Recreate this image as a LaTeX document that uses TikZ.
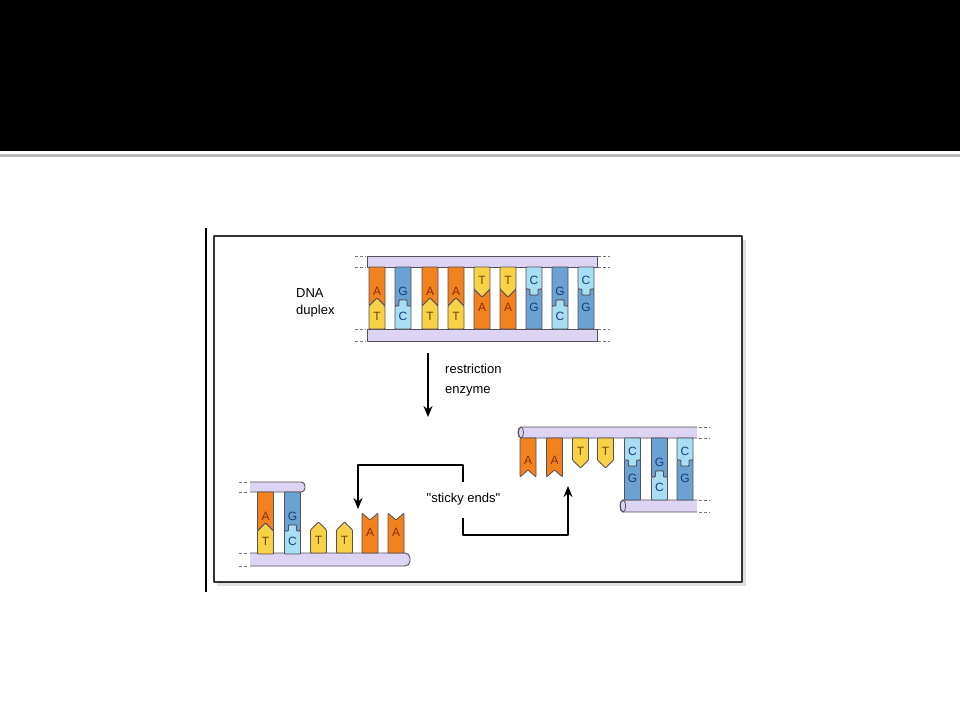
\documentclass[tikz,border=0pt]{standalone}
\usepackage{fontspec}
\setmainfont{Liberation Sans}[Ligatures=TeXOff]
\usetikzlibrary{arrows.meta}
\definecolor{orng}{HTML}{F2821E}
\definecolor{yel}{HTML}{F8D246}
\definecolor{gblue}{HTML}{6AA2D2}
\definecolor{cblue}{HTML}{A8DEF2}
\definecolor{lav}{HTML}{DDD3F2}
\definecolor{edge}{HTML}{55505A}
\definecolor{atxt}{HTML}{8A2E0A}
\definecolor{ttxt}{HTML}{6B4A00}
\definecolor{gctxt}{HTML}{1A3C78}
\tikzset{nt/.style={draw=edge,line width=0.8pt,rounded corners=0.8pt},
	lbl/.style={font=\fontsize{12}{12}\selectfont,inner sep=0pt},
	txt/.style={font=\fontsize{13}{13}\selectfont,inner sep=0pt},
	tube/.style={fill=lav,draw=edge,line width=0.9pt},
	strandend/.style={draw=edge!80,line width=0.9pt,dash pattern=on 3pt off 2pt},
	arr/.style={->,line width=1.8pt}}
% one nucleotide, pointed or notched end: x, base, edge, tip, colour
\newcommand{\ptd}[5]{\filldraw[nt,fill=#5] (#1-8,#2) -- (#1-8,#3) -- (#1,#4) -- (#1+8,#3) -- (#1+8,#2) -- cycle;}
% one nucleotide, bump or socket end
\newcommand{\bmp}[5]{\filldraw[nt,fill=#5] (#1-8,#2) -- (#1-8,#3) -- (#1-4,#3) -- (#1-4,#4) -- (#1+4,#4) -- (#1+4,#3) -- (#1+8,#3) -- (#1+8,#2) -- cycle;}
% base pairs: x, top strand edge, name
\newcommand{\pairAT}[3]{\ptd{#1}{#2}{#2+39}{#2+31}{orng}\ptd{#1}{#2+62}{#2+39}{#2+31}{yel}
	\node[lbl,text=atxt] (#3a) at (#1,#2+24) {A};\node[lbl,text=ttxt] (#3b) at (#1,#2+49) {T};}
\newcommand{\pairTA}[3]{\ptd{#1}{#2+62}{#2+22}{#2+30}{orng}\ptd{#1}{#2}{#2+22}{#2+30}{yel}
	\node[lbl,text=ttxt] (#3a) at (#1,#2+13) {T};\node[lbl,text=atxt] (#3b) at (#1,#2+40) {A};}
\newcommand{\pairGC}[3]{\bmp{#1}{#2}{#2+39}{#2+33}{gblue}\bmp{#1}{#2+62}{#2+39}{#2+33}{cblue}
	\node[lbl,text=gctxt] (#3a) at (#1,#2+24) {G};\node[lbl,text=gctxt] (#3b) at (#1,#2+49) {C};}
\newcommand{\pairCG}[3]{\bmp{#1}{#2+62}{#2+22}{#2+28}{gblue}\bmp{#1}{#2}{#2+22}{#2+28}{cblue}
	\node[lbl,text=gctxt] (#3a) at (#1,#2+13) {C};\node[lbl,text=gctxt] (#3b) at (#1,#2+40) {G};}
\begin{document}
\begin{tikzpicture}[x=1pt,y=-1pt,>={Stealth[length=11pt,width=9pt]},line join=round]
	\useasboundingbox (0,0) rectangle (960,720);
	\fill[white] (0,0) rectangle (960,720);
	% slide header
	\fill[black] (0,0) rectangle (960,151);
	\draw[gray!55,line width=2.5pt] (0,155.5) -- (960,155.5);
	\draw[black,line width=2pt] (206,228) -- (206,592);
	% frame
	\fill[gray!25] (217,240) rectangle (746,586);
	\filldraw[fill=white,draw=black!80,line width=1.3pt] (214,236) rectangle (742,582);
	% DNA duplex
	\filldraw[tube] (367,256) rectangle (597,267);
	\filldraw[tube] (367,329) rectangle (597,341);
	\foreach \y in {256,267,329,341}{
		\draw[strandend] (355,\y) -- (366,\y);
		\draw[strandend] (598,\y) -- (610,\y);}
	\pairAT{377}{267}{d1}
	\pairGC{403}{267}{d2}
	\pairAT{430}{267}{d3}
	\pairAT{456}{267}{d4}
	\pairTA{482}{267}{d5}
	\pairTA{508}{267}{d6}
	\pairCG{534}{267}{d7}
	\pairGC{560}{267}{d8}
	\pairCG{586}{267}{d9}
	\node[txt,anchor=base west] (dna) at (296,297) {DNA};
	\node[txt,anchor=base west] (duplex) at (296,314) {duplex};
	% cut
	\coordinate (cuttop) at (428,353);
	\coordinate (cutend) at (428,417);
	\draw[arr] (cuttop) -- (cutend);
	\node[txt,anchor=base west] (restr) at (445,373) {restriction};
	\node[txt,anchor=base west] (enz) at (445,393) {enzyme};
	% left fragment
	\filldraw[tube,rounded corners=4pt] (250,482) -- (305,482) -- (305,492) -- (250,492);
	\filldraw[tube,rounded corners=5pt] (250,553) -- (410,553) -- (410,566) -- (250,566);
	\foreach \y in {482,492,553,566}
		\draw[strandend] (239,\y) -- (249,\y);
	\pairAT{265.5}{492}{l1}
	\pairGC{292.5}{492}{l2}
	\foreach \x [count=\i] in {318.5,344.5}{
		\ptd{\x}{553}{530}{522}{yel}
		\node[lbl,text=ttxt] (lt\i) at (\x,540) {T};}
	\foreach \x [count=\i] in {370,396}{
		\ptd{\x}{553}{513}{520}{orng}
		\node[lbl,text=atxt] (la\i) at (\x,532) {A};}
	% right fragment
	\filldraw[tube] (697,427) -- (521,427) .. controls (517,427) and (517,438) .. (521,438) -- (697,438);
	\draw[edge,line width=0.8pt] (521,432.5) ellipse (2.5 and 5.5);
	\filldraw[tube] (697,500) -- (623,500) .. controls (619,500) and (619,512) .. (623,512) -- (697,512);
	\draw[edge,line width=0.8pt] (623,506) ellipse (2.5 and 6);
	\foreach \y in {427,438,500,512}
		\draw[strandend] (699,\y) -- (710,\y);
	\foreach \x [count=\i] in {528,554.5}{
		\ptd{\x}{438}{477}{470}{orng}
		\node[lbl,text=atxt] (ra\i) at (\x,460) {A};}
	\foreach \x [count=\i] in {580.5,605.5}{
		\ptd{\x}{438}{460}{468}{yel}
		\node[lbl,text=ttxt] (rt\i) at (\x,451) {T};}
	\pairCG{632.5}{438}{r1}
	\pairGC{659.5}{438}{r2}
	\pairCG{685}{438}{r3}
	% sticky ends
	\node[txt,anchor=base] (sticky) at (463.5,502) {"sticky ends"};
	\coordinate (lstart) at (463,482);
	\coordinate (lcorner) at (358,465);
	\coordinate (lend) at (358,509);
	\coordinate (rstart) at (463,518);
	\coordinate (rcorner) at (568,535);
	\coordinate (rend) at (568,486);
	\draw[arr] (lstart) |- (lcorner) -- (lend);
	\draw[arr] (rstart) |- (rcorner) -- (rend);
\end{tikzpicture}
\end{document}
